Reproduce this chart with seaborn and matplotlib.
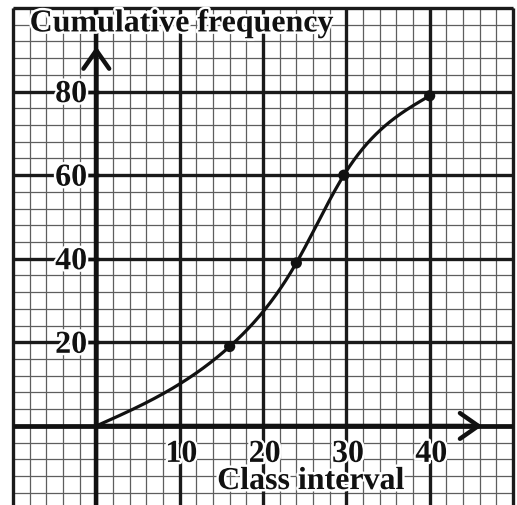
import matplotlib
matplotlib.use("Agg")
import matplotlib.pyplot as plt
import matplotlib.patheffects as pe
import numpy as np
import pandas as pd
import seaborn as sns

# values
class_bound = [0, 16, 24, 29.7, 40]
cum_freq = [0, 19, 39, 60, 79]
x_ticks = [10, 20, 30, 40]
y_ticks = [20, 40, 60, 80]
x_title = "Class interval"
y_title = "Cumulative frequency"


def natural_spline(x, y, xs):
    # natural cubic spline through the points, only for drawing the ogive
    x = np.asarray(x, float)
    y = np.asarray(y, float)
    n = len(x)
    h = np.diff(x)
    A = np.zeros((n, n))
    b = np.zeros(n)
    A[0, 0] = A[-1, -1] = 1
    for i in range(1, n - 1):
        A[i, i - 1] = h[i - 1]
        A[i, i] = 2 * (h[i - 1] + h[i])
        A[i, i + 1] = h[i]
        b[i] = 6 * ((y[i + 1] - y[i]) / h[i] - (y[i] - y[i - 1]) / h[i - 1])
    M = np.linalg.solve(A, b)
    k = np.clip(np.searchsorted(x, xs, side="right") - 1, 0, n - 2)
    t0 = x[k + 1] - xs
    t1 = xs - x[k]
    hk = h[k]
    return (M[k] * t0**3 / (6 * hk) + M[k + 1] * t1**3 / (6 * hk)
            + (y[k] / hk - M[k] * hk / 6) * t0
            + (y[k + 1] / hk - M[k + 1] * hk / 6) * t1)


sns.set_style("white")
plt.rcParams["font.family"] = ["Liberation Serif", "DejaVu Serif"]

fig = plt.figure(figsize=(5.17, 5.06), dpi=100)
ax = fig.add_axes([0, 0, 1, 1])
ax.set_xlim(-11.56, 50.48)
ax.set_ylim(-18.92, 102.16)
ax.axis("off")

# graph paper
minor_x = np.arange(-10, 51, 2)
minor_y = np.arange(-20, 101, 4)
ax.vlines(minor_x, -25, 100, color="#5e5e5e", lw=0.9, zorder=1)
ax.hlines(minor_y, -10, 50, color="#5e5e5e", lw=0.9, zorder=1)
major_x = np.arange(-10, 51, 10)
major_y = np.arange(-20, 101, 20)
ax.vlines(major_x, -25, 100, color="#1a1a1a", lw=2.4, zorder=2)
ax.hlines(major_y, -10, 50, color="#1a1a1a", lw=2.4, zorder=2)
ax.hlines([0], -10, 50, color="#111111", lw=3.4, zorder=2)
ax.vlines([0], -25, 100, color="#111111", lw=3.2, zorder=2)

# axis arrows
arrow = dict(arrowstyle="->,head_length=0.6,head_width=0.42", lw=3.2,
             color="#111111", mutation_scale=22, shrinkA=0, shrinkB=0)
ax.annotate("", xy=(46.3, 0), xytext=(0, 0), arrowprops=arrow, zorder=3)
ax.annotate("", xy=(0, 90.8), xytext=(0, 0), arrowprops=arrow, zorder=3)

# ogive
xs = np.linspace(class_bound[0], class_bound[-1], 300)
curve = pd.DataFrame({"x": xs, "y": natural_spline(class_bound, cum_freq, xs)})
sns.lineplot(data=curve, x="x", y="y", color="#111111", lw=2.3, ax=ax,
             zorder=4, sort=False)
pts = pd.DataFrame({"x": class_bound[1:], "y": cum_freq[1:]})
sns.scatterplot(data=pts, x="x", y="y", color="#111111", s=65,
                edgecolor="none", ax=ax, zorder=5)

halo = [pe.withStroke(linewidth=3.5, foreground="white")]
tfont = dict(fontsize=23, fontweight="bold", color="#111111",
             path_effects=halo, zorder=6)

for v in y_ticks:
    ax.plot([-1.1, 0.3], [v, v], color="#111111", lw=2.5, zorder=3,
            solid_capstyle="butt")
    ax.text(-1.1, v - 2.5, str(v), ha="right", va="baseline", **tfont)
for v in x_ticks:
    ax.text(v + 0.2, -8.6, str(v), ha="center", va="baseline", **tfont)

ax.text(-8.0, 94.4, y_title, ha="left", va="baseline", **tfont)
ax.text(14.5, -15.1, x_title, ha="left", va="baseline", **tfont)

fig.savefig("out.png", dpi=100)
